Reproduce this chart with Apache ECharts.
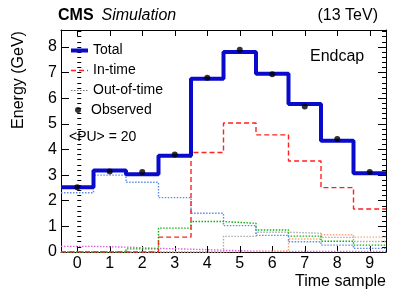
<!DOCTYPE html>
<html>
<head>
<meta charset="utf-8">
<script src="https://cdn.jsdelivr.net/npm/echarts@6/dist/echarts.min.js"></script>
<style>html,body{margin:0;padding:0;background:#fff;}#c{width:407px;height:297px;}</style>
</head>
<body>
<div id="c"></div>
<script>
const categories = ['0','1','2','3','4','5','6','7','8','9'];
const yTicks = [0,1,2,3,4,5,6,7,8];
const total      = [2.53, 3.18, 3.03, 3.75, 6.76, 7.80, 6.95, 5.77, 4.34, 3.07];
const observed   = [2.53, 3.14, 3.12, 3.80, 6.80, 7.89, 6.93, 5.68, 4.41, 3.12];
const inTime     = [0, 0, 0, 0.58, 3.88, 5.03, 4.57, 3.55, 2.51, 1.68];
const ootBlue    = [2.31, 3.00, 2.72, 2.12, 1.51, 1.03, 0.65, 0.40, 0.27, 0.14];
const ootGreen   = [0, 0, 0.12, 0.93, 1.19, 1.12, 0.86, 0.62, 0.42, 0.27];
const ootGrey    = [0, 0, 0, 0, 0, 0.61, 0.77, 0.73, 0.57, 0.41];
const ootOrange  = [0, 0, 0, 0, 0, 0.02, 0.04, 0.51, 0.67, 0.58];
const ootMagenta = [0.22, 0.19, 0.14, 0.11, 0.07, 0.03, 0.02, 0.02, 0.02, 0.02];

const FONT = 'Liberation Sans, Arial, Helvetica, sans-serif';

function steps(vals) {
  const pts = [];
  vals.forEach((v, i) => { pts.push([i - 0.5, v]); pts.push([i + 0.5, v]); });
  return pts;
}
function centers(vals) { return vals.map((v, i) => [i, v]); }

function dotted(name, color, vals) {
  return {
    name: name, type: 'line', xAxisIndex: 2, yAxisIndex: 0, symbol: 'none',
    data: steps(vals), color: color, z: 2, silent: true,
    lineStyle: { color: color, width: 1.4, type: [1.5, 1.5] }
  };
}

const yMax = 8.66;
const majorY = (pos, labels) => ({
  type: 'value', position: pos, min: 0, max: yMax, interval: 1,
  axisLine: { show: true, onZero: false, lineStyle: { color: '#000', width: 1 } },
  axisTick: { show: true, inside: true, length: 8, lineStyle: { color: '#000', width: 1 } },
  axisLabel: { show: labels, fontSize: 16, color: '#000', fontFamily: FONT, margin: 4, showMaxLabel: false,
               formatter: v => (yTicks.indexOf(v) >= 0 ? String(v) : '') },
  splitLine: { show: false }
});
const minorY = (pos) => ({
  type: 'value', position: pos, min: 0, max: yMax, interval: 0.2,
  axisLine: { show: false },
  axisTick: { show: true, inside: true, length: 4, lineStyle: { color: '#000', width: 1 } },
  axisLabel: { show: false },
  splitLine: { show: false }
});

const hideSym = { opacity: 0 };

const chart = echarts.init(document.getElementById('c'), null, { renderer: 'canvas' });
chart.setOption({
  animation: false,
  backgroundColor: '#fff',
  grid: { left: 61, right: 21, top: 30, bottom: 45 },
  xAxis: [
    { type: 'category', data: categories, position: 'bottom', boundaryGap: true,
      axisLine: { show: true, onZero: false, lineStyle: { color: '#000', width: 1 } },
      axisTick: { show: true, inside: true, alignWithLabel: true, length: 6, lineStyle: { color: '#000' } },
      axisLabel: { fontSize: 16, color: '#000', fontFamily: FONT, margin: 4 },
      splitLine: { show: false } },
    { type: 'category', data: categories, position: 'top', boundaryGap: true,
      axisLine: { show: true, onZero: false, lineStyle: { color: '#000', width: 1 } },
      axisTick: { show: true, inside: true, alignWithLabel: true, length: 6, lineStyle: { color: '#000' } },
      axisLabel: { show: false }, splitLine: { show: false } },
    { type: 'value', min: -0.5, max: 9.5, show: false }
  ],
  yAxis: [ majorY('left', true), minorY('left'), majorY('right', false), minorY('right') ],
  legend: [
    { orient: 'vertical', left: 69, top: 43.5, padding: 0, itemWidth: 17, itemHeight: 14, itemGap: 6,
      textStyle: { fontSize: 14, color: '#000', fontFamily: FONT },
      data: [
        { name: 'Total', itemStyle: hideSym, lineStyle: { width: 4, color: '#0a0acc', type: 'solid' } },
        { name: 'In-time', itemStyle: hideSym, lineStyle: { width: 1.4, color: '#ff2020', type: [5, 3] } },
        { name: 'Out-of-time', itemStyle: hideSym, lineStyle: { width: 1.2, color: '#777', type: [1.5, 1.5] } }
      ] },
    { orient: 'vertical', left: 75, top: 103, padding: 0, itemWidth: 6, itemHeight: 6, icon: 'circle',
      textStyle: { fontSize: 14, color: '#000', fontFamily: FONT, padding: [0, 0, 0, 5] },
      data: [{ name: 'Observed', itemStyle: { color: '#000' } }] }
  ],
  series: [
    dotted('oot-magenta', '#e060e0', ootMagenta),
    dotted('oot-orange', '#ffa57a', ootOrange),
    dotted('oot-grey', '#aaaaaa', ootGrey),
    dotted('oot-green', '#10b010', ootGreen),
    dotted('oot-blue', '#5b8ee8', ootBlue),
    { name: 'Out-of-time', type: 'line', xAxisIndex: 2, data: [], symbol: 'none', color: '#777',
      lineStyle: { color: '#777', width: 1.2, type: [1.5, 1.5] } },
    { name: 'In-time', type: 'line', xAxisIndex: 2, symbol: 'none', data: steps(inTime), color: '#ff2020', z: 3,
      lineStyle: { color: '#ff2020', width: 1.4, type: [5, 3] } },
    { name: 'Total', type: 'line', xAxisIndex: 2, symbol: 'none', data: steps(total), color: '#0a0acc', z: 4,
      lineStyle: { color: '#0a0acc', width: 4 } },
    { name: 'Observed', type: 'scatter', xAxisIndex: 2, data: centers(observed), symbol: 'circle', symbolSize: 6,
      itemStyle: { color: '#000' }, z: 5 }
  ],
  graphic: [
    { type: 'text', x: 58, y: 16, style: { text: 'CMS', font: 'bold 16px ' + FONT, fill: '#000', verticalAlign: 'middle', align: 'left' } },
    { type: 'text', x: 101.5, y: 16, style: { text: 'Simulation', font: 'italic 16px ' + FONT, fill: '#000', verticalAlign: 'middle', align: 'left' } },
    { type: 'text', x: 378, y: 16, style: { text: '(13 TeV)', font: '16px ' + FONT, fill: '#000', verticalAlign: 'middle', align: 'right' } },
    { type: 'text', x: 310, y: 56.5, style: { text: 'Endcap', font: '16px ' + FONT, fill: '#000', verticalAlign: 'middle', align: 'left' } },
    { type: 'text', x: 69, y: 137, style: { text: '<PU> = 20', font: '14px ' + FONT, fill: '#000', verticalAlign: 'middle', align: 'left' } },
    { type: 'text', x: 386, y: 282, style: { text: 'Time sample', font: '16px ' + FONT, fill: '#000', verticalAlign: 'middle', align: 'right' } },
    { type: 'text', x: 18.5, y: 80, rotation: Math.PI / 2, style: { text: 'Energy (GeV)', font: '16px ' + FONT, fill: '#000', verticalAlign: 'middle', align: 'center' } }
  ]
});
</script>
</body>
</html>
